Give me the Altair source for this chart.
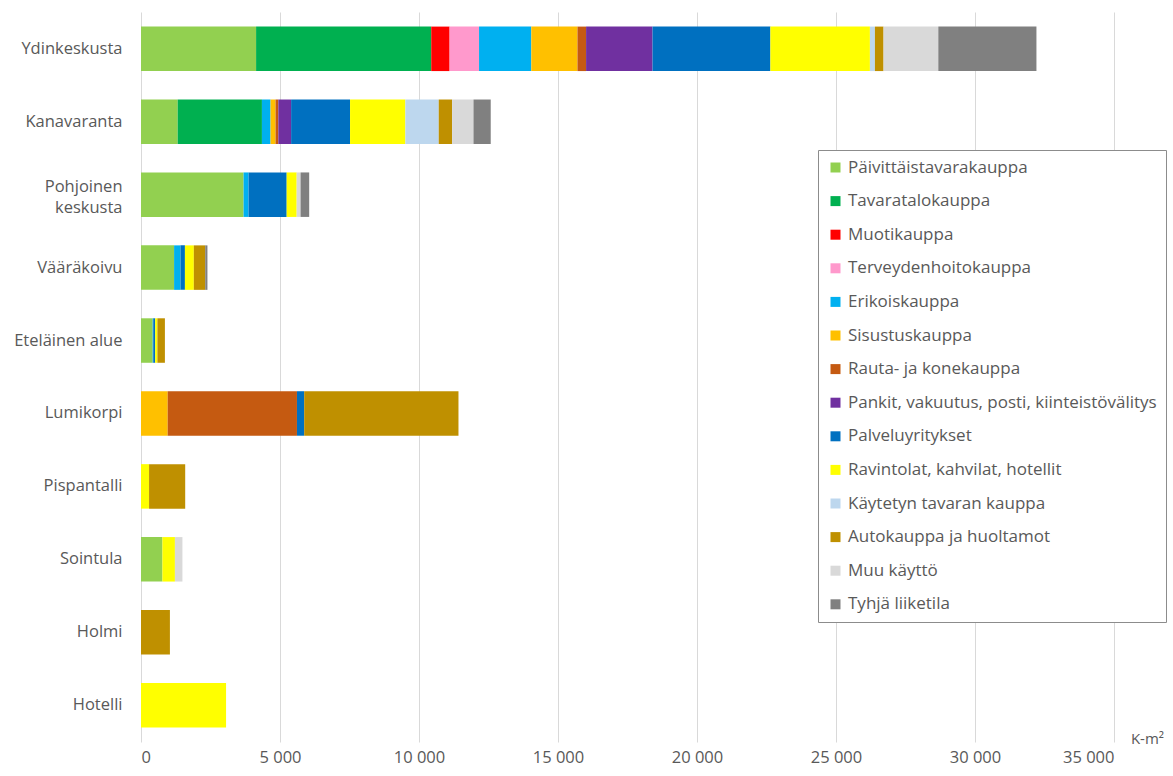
import altair as alt
import pandas as pd

areas = ["Ydinkeskusta", "Kanavaranta", "Pohjoinen keskusta", "Vääräkoivu",
         "Eteläinen alue", "Lumikorpi", "Pispantalli", "Sointula", "Holmi", "Hotelli"]

series = ["Päivittäistavarakauppa", "Tavaratalokauppa", "Muotikauppa",
          "Terveydenhoitokauppa", "Erikoiskauppa", "Sisustuskauppa",
          "Rauta- ja konekauppa", "Pankit, vakuutus, posti, kiinteistövälitys",
          "Palveluyritykset", "Ravintolat, kahvilat, hotellit",
          "Käytetyn tavaran kauppa", "Autokauppa ja huoltamot", "Muu käyttö",
          "Tyhjä liiketila"]

colors = ["#92D050", "#00B050", "#FF0000", "#FF99CC", "#00B0F0", "#FFC000",
          "#C55A11", "#7030A0", "#0070C0", "#FFFF00", "#BDD7EE", "#BF9000",
          "#D9D9D9", "#808080"]

# values per area, in series order (k-m2)
ydinkeskusta = [4140, 6300, 660, 1060, 1880, 1660, 310, 2390, 4240, 3580, 180, 310, 1970, 3530]
kanavaranta = [1320, 3030, 0, 0, 310, 180, 100, 460, 2120, 1990, 1200, 480, 770, 620]
pohjoinen = [3690, 0, 0, 0, 180, 0, 0, 0, 1370, 360, 0, 0, 140, 310]
vaarakoivu = [1190, 0, 0, 0, 230, 0, 0, 0, 160, 320, 0, 410, 0, 80]
etelainen = [420, 0, 0, 0, 20, 0, 0, 0, 70, 80, 0, 270, 0, 0]
lumikorpi = [0, 0, 0, 0, 0, 960, 4650, 0, 260, 0, 0, 5550, 0, 0]
pispantalli = [0, 0, 0, 0, 0, 0, 0, 0, 0, 290, 0, 1300, 0, 0]
sointula = [770, 0, 0, 0, 0, 0, 0, 0, 0, 450, 0, 0, 270, 0]
holmi = [0, 0, 0, 0, 0, 0, 0, 0, 0, 0, 0, 1040, 0, 0]
hotelli = [0, 0, 0, 0, 0, 0, 0, 0, 0, 3060, 0, 0, 0, 0]

all_values = [ydinkeskusta, kanavaranta, pohjoinen, vaarakoivu, etelainen,
              lumikorpi, pispantalli, sointula, holmi, hotelli]

rows = []
for area, vals in zip(areas, all_values):
    for i, (s, v) in enumerate(zip(series, vals)):
        if v > 0:
            rows.append({"alue": area, "tyyppi": s, "arvo": v, "idx": i})
df = pd.DataFrame(rows)

FONT = "Open Sans"
TXT = "#595959"
FS = 16.5

chart = alt.Chart(df).mark_bar().encode(
    y=alt.Y("alue:N", sort=areas,
            scale=alt.Scale(paddingInner=0.39, paddingOuter=0.2),
            axis=alt.Axis(title=None, ticks=False, domain=False, labelPadding=19,
                          labelFontSize=FS, labelColor=TXT, labelFont=FONT,
                          labelLineHeight=21, labelLimit=200,
                          labelOffset={"condition": {"test": "datum.value == 'Pohjoinen keskusta'",
                                                     "value": -8}, "value": 0},
                          labelExpr="datum.label == 'Pohjoinen keskusta' ? ['Pohjoinen', 'keskusta '] : datum.label")),
    x=alt.X("sum(arvo):Q", stack="zero",
            scale=alt.Scale(domain=[0, 35000], nice=False),
            axis=alt.Axis(values=list(range(0, 35001, 5000)), ticks=False, domain=False,
                          grid=True, gridColor="#D9D9D9", gridWidth=1,
                          labelFontSize=FS, labelColor=TXT, labelFont=FONT,
                          labelPadding=7,
                          labelExpr="replace(format(datum.value, ','), ',', ' ')",
                          title="K-m²", titleFontWeight="normal", titleFontSize=15,
                          titleColor=TXT, titleFont=FONT, titleX=1006, titleY=-4,
                          titleAlign="center", titleBaseline="middle")),
    color=alt.Color("tyyppi:N",
                    scale=alt.Scale(domain=series, range=colors),
                    legend=alt.Legend(title=None, orient="none", legendX=677, legendY=138,
                                      strokeColor="#8C8C8C", fillColor="white", padding=9,
                                      symbolType="square", symbolSize=100,
                                      symbolStrokeWidth=0, labelFontSize=17,
                                      labelFont=FONT, labelColor=TXT, labelLimit=400,
                                      labelOffset=4, rowPadding=15.6)),
    order=alt.Order("idx:Q"),
).properties(
    width=973, height=730,
    autosize=alt.AutoSizeParams(type="none"),
    padding={"left": 141, "top": 12, "right": 59, "bottom": 34},
).configure_view(stroke=None)

chart.save("out.html", embed_options={"renderer": "svg", "actions": False})
